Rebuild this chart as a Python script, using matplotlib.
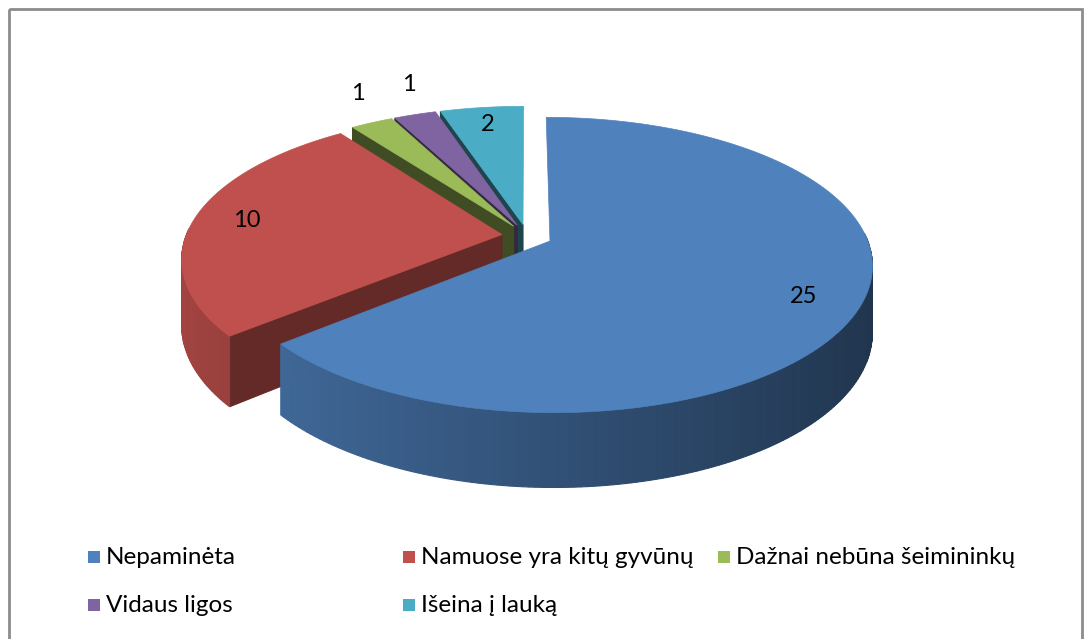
import numpy as np
import matplotlib.pyplot as plt
from matplotlib.patches import Polygon, Rectangle
from matplotlib.colors import to_rgb

labels = ["Nepaminėta", "Namuose yra kitų gyvūnų", "Dažnai nebūna šeimininkų",
          "Vidaus ligos", "Išeina į lauką"]
values = [25, 10, 1, 1, 2]
colors = ["#4f81bd", "#c0504d", "#9bbb59", "#8064a2", "#4bacc6"]

plt.rcParams['font.family'] = ['Lato', 'DejaVu Sans']

# pseudo 3d geometry (pixel space)
cx, cy = 527, 236
rx, ry = 316, 146
depth = 64
persp = 0.164
explode = 0.08


def proj(u, v, z=0.0):
    f = 1 - persp * v
    return cx + u * rx * f, cy - v * ry * f + z * depth * f


def shade(c, k):
    return tuple(min(1, x * k) for x in to_rgb(c))


fig = plt.figure(figsize=(10.84, 6.39), dpi=100)
ax = fig.add_axes([0, 0, 1, 1])
ax.set_xlim(0, 1084)
ax.set_ylim(639, 0)
ax.axis('off')

total = sum(values)
start = 90.0
slices = []
for val, col in zip(values, colors):
    sweep = 360.0 * val / total
    a1 = start - sweep  # ccw start
    a2 = start          # ccw end
    mid = np.radians((a1 + a2) / 2)
    ou, ov = explode * np.cos(mid), explode * np.sin(mid)
    slices.append((a1, a2, ou, ov, col, val))
    start = a1

# draw back to front
order = sorted(range(len(slices)), key=lambda i: -slices[i][3])
for i in order:
    a1, a2, ou, ov, col, val = slices[i]
    th = np.radians(np.linspace(a1, a2, max(3, int(a2 - a1) + 2)))
    faces = []
    # radial walls
    for a, sgn in ((a1, -1), (a2, 1)):
        nrm = np.radians(a + sgn * 90)
        if np.sin(nrm) < 0:
            ar = np.radians(a)
            pts = [proj(ou, ov, 0), proj(ou + np.cos(ar), ov + np.sin(ar), 0),
                   proj(ou + np.cos(ar), ov + np.sin(ar), 1), proj(ou, ov, 1)]
            k = 0.47 + 0.08 * np.cos(nrm)
            faces.append((ov + 0.5 * np.sin(ar), pts, shade(col, k)))
    # outer wall
    for t0, t1 in zip(th[:-1], th[1:]):
        tm = (t0 + t1) / 2
        if np.sin(tm) < 0.05:
            pts = [proj(ou + np.cos(t0), ov + np.sin(t0), 0),
                   proj(ou + np.cos(t1), ov + np.sin(t1), 0),
                   proj(ou + np.cos(t1), ov + np.sin(t1), 1),
                   proj(ou + np.cos(t0), ov + np.sin(t0), 1)]
            k = 0.4 + 0.45 * (1 - (np.cos(tm) + 1) / 2)
            faces.append((ov + np.sin(tm), pts, shade(col, k)))
    faces.sort(key=lambda f: -f[0])
    for _, pts, fc in faces:
        ax.add_patch(Polygon(pts, closed=True, facecolor=fc, edgecolor=fc, lw=0.8))
    top = [proj(ou, ov, 0)] + [proj(ou + np.cos(t), ov + np.sin(t), 0) for t in th]
    ax.add_patch(Polygon(top, closed=True, facecolor=col, edgecolor=col, lw=0.5))

# data labels
for a1, a2, ou, ov, col, val in slices:
    mid = np.radians((a1 + a2) / 2)
    small = val / total < 0.04
    r = 1.25 if small else 0.83
    x, y = proj(ou + r * np.cos(mid), ov + r * np.sin(mid), 0)
    if small:
        x, y = x + 14, y - 9
    ax.text(x, y, str(val), ha='center', va='center', fontsize=17, color='black')

# legend
leg_pos = [(88, 557), (403, 557), (718, 557), (88, 605), (403, 605)]
for (lx, ly), lab, col in zip(leg_pos, labels, colors):
    ax.add_patch(Rectangle((lx, ly - 6), 12, 12, facecolor=col, edgecolor='none'))
    ax.text(lx + 18, ly, lab, ha='left', va='center', fontsize=17.5, color='black')

# chart frame
ax.add_patch(Rectangle((8.5, 8.5), 1073, 640, fill=False, edgecolor='#8c8c8c', lw=2))

fig.savefig('out.png', dpi=100)
